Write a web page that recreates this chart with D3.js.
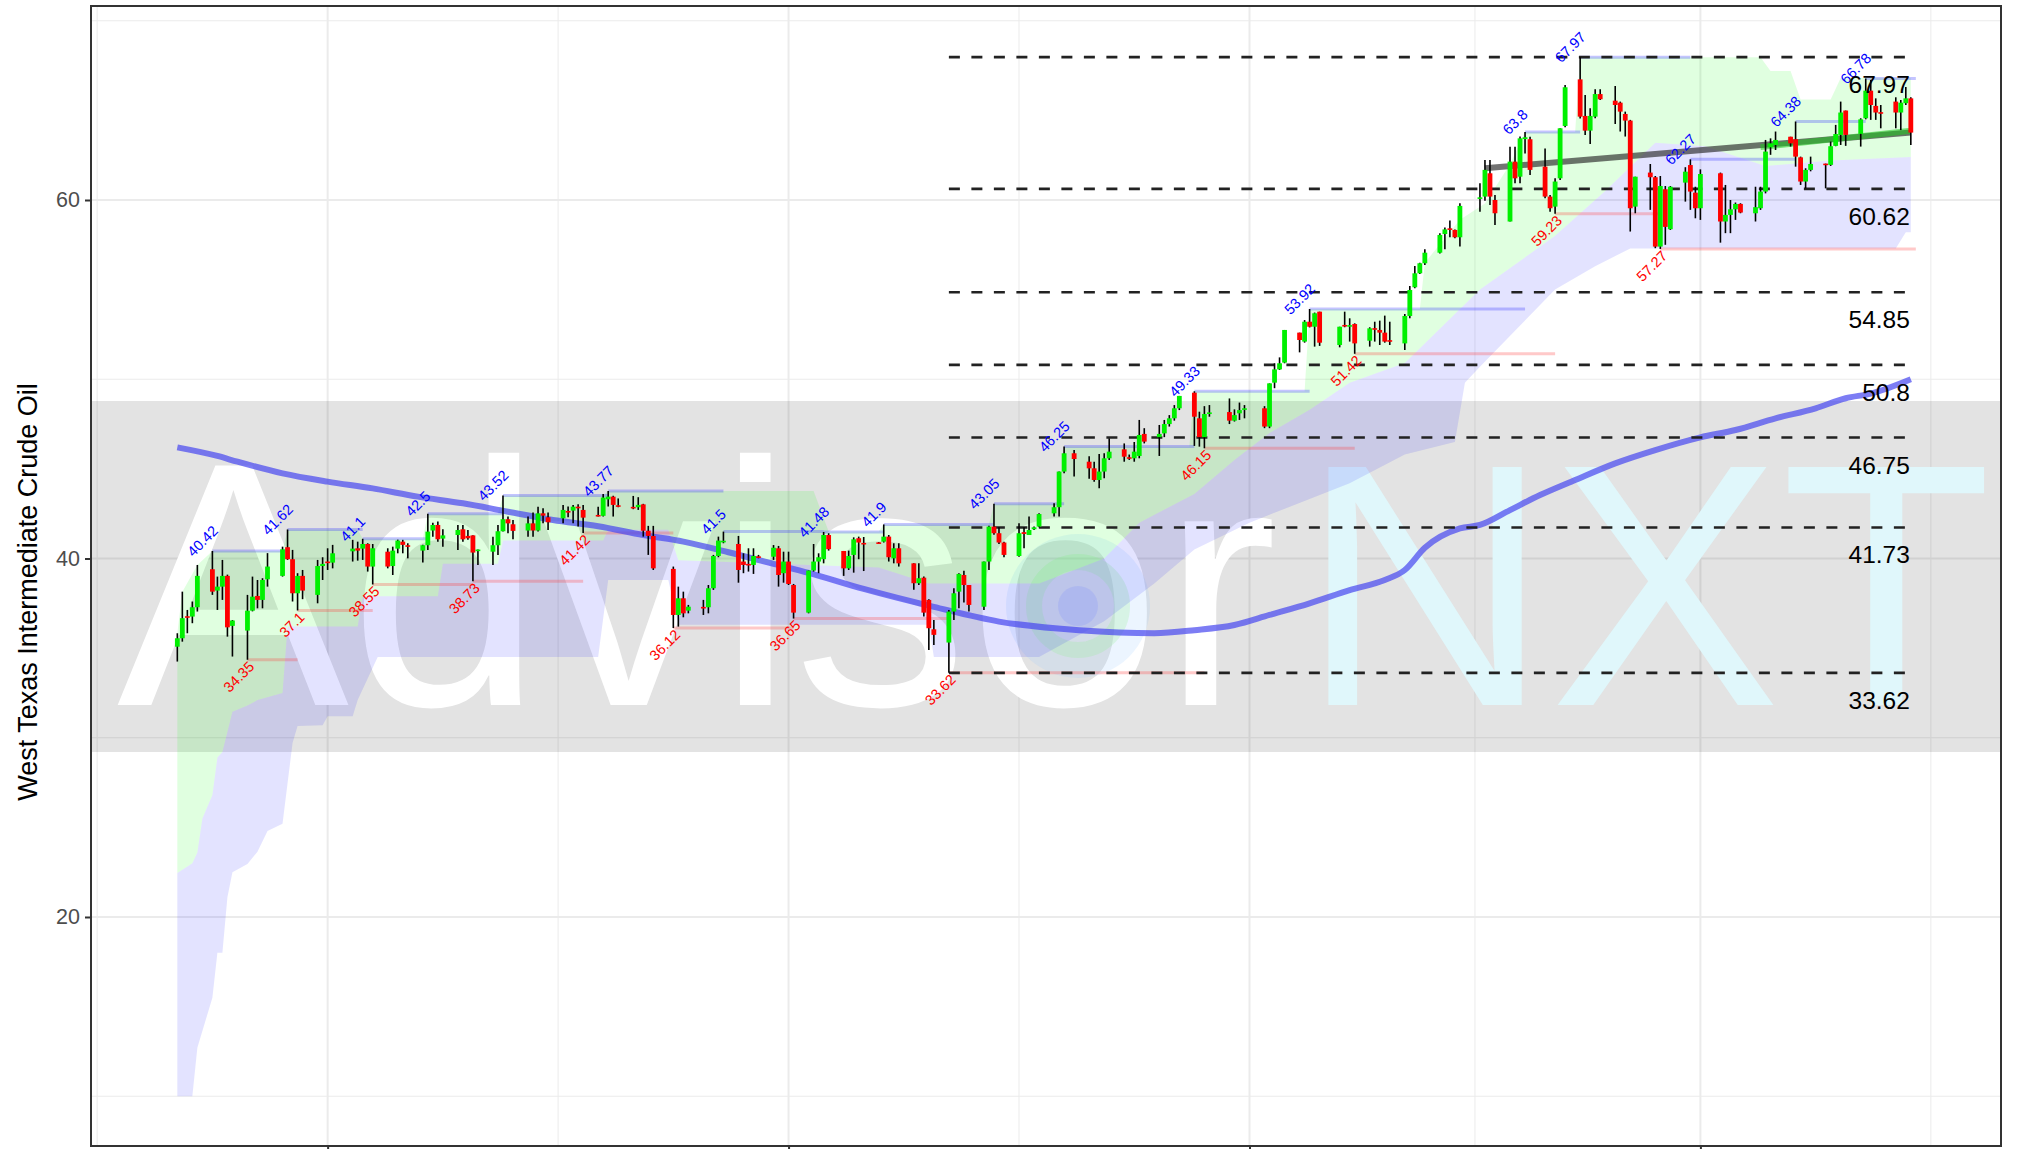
<!DOCTYPE html>
<html><head><meta charset="utf-8">
<script src="https://cdn.jsdelivr.net/npm/d3@7"></script>
<style>body{margin:0;background:#fff}svg{display:block}text{font-family:"Liberation Sans",Arial,Helvetica,sans-serif}</style>
</head><body><svg id="chart" width="2017" height="1149"></svg>
<script>
// day = calendar days since 2020-06-01
const candleDay=[0,1,2,3,4,7,8,9,10,11,14,15,16,17,18,21,22,23,24,25,28,29,30,31,35,36,37,38,39,42,43,44,45,46,49,50,51,52,53,56,57,58,59,60,63,64,65,66,67,70,71,72,73,74,77,78,79,80,81,84,85,86,87,88,91,92,93,94,95,99,100,101,102,105,106,107,108,109,112,113,114,115,116,119,120,121,122,123,126,127,128,129,130,133,134,135,136,137,140,141,142,143,144,147,148,149,150,151,154,155,156,157,158,161,162,163,164,165,168,169,170,171,172,175,176,177,179,182,183,184,185,186,189,190,191,192,193,196,197,198,199,200,203,204,205,206,210,211,212,213,217,218,219,220,221,224,225,226,227,228,232,233,234,235,238,239,240,241,242,245,246,247,248,249,252,253,254,255,256,260,261,262,263,266,267,268,269,270,273,274,275,276,277,280,281,282,283,284,287,288,289,290,291,294,295,296,297,298,301,302,303,304,308,309,310,311,312,315,316,317,318,319,322,323,324,325,326,329,330,331,332,333,336,337,338,339,340,343,344,345,346];
const candleOpen=[35.08,35.55,36.78,36.76,37.28,39.4,38.21,38.43,39.03,36.24,35.98,37.09,37.91,37.69,38.84,39.03,40.63,39.96,38.06,39.03,37.97,39.58,39.83,39.77,40.4,40.57,40.55,40.81,39.55,40.38,39.58,40.55,40.94,40.74,40.44,40.74,41.56,41.87,41.11,41.31,41.63,41.26,41.29,40.44,40.38,40.74,41.52,42.19,41.91,41.56,41.96,41.56,42.52,42.3,42.24,42.65,42.67,42.89,42.71,42.43,42.38,43.3,43.45,42.97,42.88,42.86,43.02,41.55,41.26,39.42,36.85,37.78,37.09,37.3,37.28,38.34,40.14,40.95,40.81,39.83,39.7,39.64,40.12,40.1,40.57,39.18,39.83,38.52,36.98,39.33,39.83,39.96,41.31,40.42,39.45,40.2,41.13,40.87,40.9,40.94,41.22,40.01,40.57,39.73,38.62,38.93,37.69,36.05,35.31,37.04,38.15,39.08,38.52,37.31,39.83,41.78,41.41,40.89,40.14,41.47,41.31,41.63,41.78,42.52,42.86,44.85,45.87,45.4,45.03,44.38,44.85,45.59,46.09,45.65,45.59,45.72,46.95,46.77,46.98,47.5,47.82,48.38,49.25,47.82,46.77,48.1,48.17,47.69,48.1,48.35,48.38,47.36,49.81,50.55,50.93,52.6,52.1,53.21,52.93,53.77,51.91,53.03,52.98,53.08,52.15,52.85,52.75,52.6,52.18,52.0,53.53,55.13,55.91,56.47,57.06,58.1,58.42,58.33,57.92,60.06,60.19,61.49,60.0,58.8,62.14,61.3,63.4,63.39,61.86,60.19,59.63,61.21,64.13,66.73,64.69,63.87,64.65,65.91,65.54,65.43,64.8,64.43,59.63,61.53,61.27,57.4,60.6,58.37,60.97,61.95,60.41,59.54,61.49,58.8,59.17,59.48,59.78,59.26,59.54,60.47,62.94,63.07,63.53,63.39,62.38,61.03,61.68,62.03,61.96,63.02,63.63,64.99,63.69,64.56,66.1,65.25,64.9,65.49,64.88,65.4,65.67];
const candleHigh=[35.83,38.15,37.13,37.6,39.64,40.42,38.99,39.92,39.1,36.57,37.97,38.99,38.8,38.9,40.3,40.66,41.62,40.48,39.18,39.36,39.92,40.07,40.57,40.76,41.04,40.94,41.1,40.85,40.81,40.57,40.66,41.05,41.04,40.85,40.76,42.5,42.0,42.06,41.63,41.87,41.87,41.59,41.3,40.5,41.22,41.87,43.52,42.34,42.15,42.34,42.56,42.89,42.8,42.56,42.99,42.9,42.99,43.02,42.99,42.89,43.6,43.77,43.5,43.35,43.49,43.42,43.05,41.82,41.82,39.55,38.43,38.15,37.41,37.69,38.52,40.2,41.22,41.5,41.26,40.29,40.57,40.57,40.2,40.75,40.7,40.38,40.38,38.58,39.33,40.81,40.29,41.48,41.41,40.42,40.44,41.18,41.22,41.2,40.92,41.9,41.31,40.85,40.85,39.73,39.73,38.99,37.73,36.57,37.13,38.34,39.18,39.32,38.52,39.83,41.82,43.05,41.74,40.94,41.96,41.74,42.34,41.78,42.52,43.08,44.85,46.25,46.05,45.7,45.4,45.83,45.87,46.7,46.42,45.8,46.5,47.73,47.27,47.45,47.73,48.0,48.56,49.07,49.33,48.19,48.5,48.56,48.93,48.32,48.7,48.56,48.5,49.77,50.89,51.22,52.75,52.6,53.3,53.92,53.72,53.77,52.93,53.77,53.4,53.12,52.9,53.21,53.27,53.55,53.21,53.64,55.2,56.32,56.5,57.25,58.14,58.47,58.85,58.36,59.82,60.93,62.23,62.23,60.28,62.97,62.97,63.54,63.8,63.53,62.88,60.28,61.21,64.0,66.42,67.97,65.86,65.12,66.18,66.18,66.36,65.49,64.93,64.47,61.3,62.01,61.34,61.34,60.78,60.78,61.83,62.27,60.74,61.71,61.53,60.84,60.0,59.86,59.82,60.74,60.74,63.35,63.44,63.82,63.53,64.38,62.42,61.77,62.42,62.03,63.26,64.19,65.49,64.99,64.56,66.78,66.7,65.67,65.3,65.73,65.58,66.3,65.73];
const candleLow=[34.25,35.36,35.83,36.39,37.04,37.97,37.13,37.69,35.64,34.53,34.35,37.05,37.22,37.22,38.43,38.99,39.92,37.6,37.1,37.73,37.5,38.8,39.36,39.45,39.83,39.88,39.92,39.27,38.55,39.45,39.08,40.29,40.29,40.01,39.77,40.48,41.22,40.94,40.66,40.48,40.94,41.04,38.73,39.64,39.64,40.2,41.5,41.41,41.07,41.22,41.22,41.5,41.96,41.59,41.96,42.3,41.96,41.78,41.42,42.34,42.34,42.9,42.34,42.86,42.75,42.71,41.22,40.2,39.36,36.12,36.2,36.72,36.94,36.85,36.94,38.25,40.07,40.85,38.65,39.18,39.27,39.14,40.01,39.92,38.43,38.65,38.52,36.65,36.94,39.27,39.18,39.73,40.44,39.03,39.36,39.21,39.96,39.3,40.85,40.89,39.83,39.73,39.55,38.25,38.52,36.76,34.9,35.18,33.62,36.57,37.22,37.54,37.04,37.13,39.36,41.32,40.81,40.07,40.1,40.57,41.31,41.59,41.74,42.34,42.34,44.75,44.57,44.45,44.28,43.92,44.47,45.5,45.4,45.5,45.4,45.59,46.42,45.72,46.77,47.36,47.69,48.28,46.28,46.24,46.15,47.91,47.5,47.64,47.73,47.82,47.27,47.27,49.5,50.52,50.89,51.5,52.04,52.89,51.82,51.86,51.78,52.9,52.1,51.42,51.82,52.1,51.91,52.04,51.91,51.63,53.4,55.07,55.87,56.38,57.02,57.25,57.92,57.86,57.4,59.35,59.96,59.72,58.6,58.8,60.93,60.93,62.6,61.4,60.1,59.35,59.23,61.12,64.06,64.55,63.63,63.13,64.56,65.58,64.24,63.82,63.54,58.24,59.26,59.45,57.31,57.27,57.5,58.33,59.91,59.45,58.98,58.89,57.62,58.15,58.15,58.89,59.26,58.8,59.45,60.37,62.52,62.79,62.98,61.86,60.84,60.65,61.6,60.65,61.9,63.0,63.07,63.02,62.98,64.5,64.47,64.47,64.0,64.0,63.9,65.3,63.07];
const candleClose=[35.55,36.67,36.72,37.28,39.03,38.15,38.43,39.03,36.16,36.54,37.09,37.87,37.69,38.8,39.55,40.51,39.96,38.06,39.03,38.21,39.58,39.7,39.76,40.29,40.55,40.44,40.81,39.55,40.57,39.55,40.44,41.0,40.76,40.7,40.74,41.5,41.87,41.07,41.29,41.59,41.07,41.13,40.33,40.5,40.74,41.52,42.19,41.96,41.54,41.96,41.56,42.52,42.39,42.02,42.71,42.6,42.89,42.8,42.28,42.37,43.4,43.45,42.99,42.93,42.86,42.99,41.55,41.26,39.45,36.85,37.78,36.94,37.31,37.26,38.34,40.14,41.0,40.99,39.36,39.64,39.68,40.14,40.1,40.6,39.08,39.83,38.58,36.98,39.33,39.83,40.07,41.31,40.52,39.45,40.14,41.07,40.89,40.85,40.88,41.22,40.07,40.57,39.73,38.62,38.9,36.98,36.11,35.74,37.04,38.06,39.14,38.52,37.41,39.83,41.78,41.41,40.89,40.2,41.41,41.37,41.59,41.74,42.48,42.86,44.85,45.87,45.55,45.03,44.38,44.85,45.59,45.96,45.68,45.6,45.96,46.89,46.52,46.95,47.5,47.82,48.38,49.07,47.91,46.77,48.06,48.15,47.69,48.0,48.28,48.38,47.36,49.77,50.55,50.89,52.75,52.19,53.21,52.93,53.68,52.04,52.93,52.97,53.02,52.0,52.84,52.8,52.6,52.1,52.15,53.53,54.98,55.91,56.47,57.06,58.05,58.36,58.33,57.92,59.67,60.15,61.68,60.19,59.26,62.14,61.21,63.44,63.5,61.68,60.19,59.54,61.03,64.0,66.29,64.65,63.87,64.69,65.91,65.62,65.3,64.93,64.43,59.54,61.3,61.27,57.4,60.78,58.5,60.74,61.58,60.47,59.54,61.45,58.8,59.17,59.48,59.78,59.3,59.6,60.47,62.7,63.16,63.35,63.16,62.42,61.03,61.68,62.01,61.98,63.0,63.68,64.88,63.63,64.5,66.1,65.3,64.88,64.88,64.88,65.43,65.67,63.76];

// moving average line
const maDay=[0,8,12,21,30,39,48,57,66,75,84,93,101,110,119,126,137,151,164,180,195,203,211,218,226,234,241,245,249,256,260,266,272,279,287,295,304,311,319,327,333,338,346];
const maValue=[46.2,45.72,45.4,44.75,44.29,43.91,43.45,43.08,42.61,42.15,41.8,41.31,40.94,40.35,39.7,39.2,38.3,37.3,36.48,36.0,35.83,36.0,36.29,36.85,37.5,38.24,38.8,39.36,40.6,41.68,41.87,42.7,43.54,44.38,45.31,46.05,46.76,47.17,47.82,48.38,48.94,49.2,50.0];

// band edges: green band = [middle, upper], blue band = [lower, middle]
const upperDay=[0,1,4,7,21,22,36,37,49,50,64,65,85,86,127,130,140,141,162,163,176,177,202,203,225,226,248,249,256,261,266,269,279,280,316,318,322,324,330,332,346];
const upperValue=[35.83,38.15,39.64,40.42,40.42,41.62,41.62,41.1,41.1,42.5,42.5,43.52,43.52,43.77,43.77,41.5,41.5,41.9,41.9,43.05,43.05,46.25,46.25,49.33,49.33,53.92,53.92,56.5,58.9,59.8,62.0,63.8,63.8,67.97,67.97,67.2,67.2,65.6,65.6,66.8,66.8];
const middleDay=[0,3,4,5,7,8,9,11,14,16,21,22,36,37,52,53,64,65,85,86,98,100,140,150,172,185,192,203,211,218,226,234,245,260,275,285,295,305,317,330,346];
const middleValue=[22.45,23.0,23.6,25.5,26.8,28.9,29.2,31.45,31.8,32.1,32.5,36.2,36.2,37.9,37.9,39.7,39.7,41.0,41.0,41.6,41.6,39.9,39.5,38.6,38.6,40.0,42.0,43.6,45.5,47,48.3,49.8,50.9,55,58,60.5,63.2,63,61.9,62.2,62.4];
const lowerDay=[0,3,4,7,8,9,10,11,14,16,18,21,23,24,29,30,35,36,40,84,86,98,100,150,151,172,185,195,203,214,234,245,255,257,260,275,283,290,343,345,346];
const lowerValue=[10,10,12.7,15.5,18,18,21.1,22.5,22.95,23.64,24.8,25.2,29.7,30.65,30.7,31.2,31.2,32.1,34.5,34.5,38.8,38.8,36.3,36.3,34.5,34.5,36.5,38.6,40.5,42.0,44.2,45.8,46.5,49.8,50.7,55,56.3,57.3,57.3,58.2,58.2];

// zig-zag peaks and troughs
const peakDay=[7,22,37,50,65,86,109,129,141,163,177,203,226,269,280,302,323,337];
const peakValue=[40.42,41.62,41.1,42.5,43.52,43.77,41.5,41.48,41.9,43.05,46.25,49.33,53.92,63.8,67.97,62.27,64.38,66.78];
const troughDay=[14,24,39,59,81,99,123,154,205,235,275,296];
const troughValue=[34.35,37.1,38.55,38.73,41.42,36.12,36.65,33.62,46.15,51.42,59.23,57.27];
const segmentEndDay=347;

// horizontal levels
const levelValue=[67.97,60.62,54.85,50.8,46.75,41.73,33.62];
const levelLabel=["67.97","60.62","54.85","50.8","46.75","41.73","33.62"];
const levelStartDay=154, levelEndDay=346;

// trend lines
const trendDay=[261,346], trendValue=[61.77,63.76];
const recentTrendDay=[316,346], recentTrendValue=[62.95,63.86];

// axes
const yTicks=[20,40,60], yMinor=[10,30,50,70];
const xMajor=[30,122,214,304], xMinor=[-16,76,168,259,350];
const yTitle="West Texas Intermediate Crude Oil";

const svg=d3.select("#chart");
const P={l:91,r:2001,t:6,b:1146};
const x=d3.scaleLinear().domain([-17.23,364.0]).range([P.l,P.r]);
const y=d3.scaleLinear().domain([7.224,70.823]).range([P.b,P.t]);

svg.append("defs").append("clipPath").attr("id","clip").append("rect")
  .attr("x",P.l).attr("y",P.t).attr("width",P.r-P.l).attr("height",P.b-P.t);

// grid
const grid=svg.append("g");
grid.selectAll(".ym").data(yMinor).join("line").attr("x1",P.l).attr("x2",P.r)
  .attr("y1",d=>y(d)).attr("y2",d=>y(d)).attr("stroke","#ebebeb").attr("stroke-width",1);
grid.selectAll(".xm").data(xMinor).join("line").attr("y1",P.t).attr("y2",P.b)
  .attr("x1",d=>x(d)).attr("x2",d=>x(d)).attr("stroke","#ebebeb").attr("stroke-width",1);
grid.selectAll(".yM").data(yTicks).join("line").attr("x1",P.l).attr("x2",P.r)
  .attr("y1",d=>y(d)).attr("y2",d=>y(d)).attr("stroke","#ebebeb").attr("stroke-width",2);
grid.selectAll(".xM").data(xMajor).join("line").attr("y1",P.t).attr("y2",P.b)
  .attr("x1",d=>x(d)).attr("x2",d=>x(d)).attr("stroke","#ebebeb").attr("stroke-width",2);

const plot=svg.append("g").attr("clip-path","url(#clip)");

// watermark
const wm=plot.append("g");
wm.append("rect").attr("x",P.l).attr("y",401).attr("width",P.r-P.l).attr("height",351).attr("fill","rgba(0,0,0,0.11)");
wm.append("text").attr("x",117).attr("y",705).attr("font-size",348).attr("fill","#ffffff").text("Advisor");
wm.append("text").attr("x",1300).attr("y",705).attr("font-size",346).attr("fill","#e0f7fb").text("NXT");
wm.append("circle").attr("cx",1078).attr("cy",606).attr("r",72).attr("fill","rgba(150,200,255,0.18)");
wm.append("circle").attr("cx",1078).attr("cy",606).attr("r",44).attr("fill","none").attr("stroke","rgba(150,240,150,0.25)").attr("stroke-width",16);
wm.append("circle").attr("cx",1078).attr("cy",606).attr("r",20).attr("fill","rgba(130,150,255,0.2)");

// bands
function band(dTop,vTop,dBot,vBot){
  const top=dTop.map((d,i)=>[x(d),y(vTop[i])]);
  const bot=dBot.map((d,i)=>[x(d),y(vBot[i])]).reverse();
  return "M"+top.concat(bot).map(p=>p.join(",")).join("L")+"Z";
}
plot.append("path").attr("d",band(upperDay,upperValue,middleDay,middleValue)).attr("fill","rgba(0,255,0,0.12)");
plot.append("path").attr("d",band(middleDay,middleValue,lowerDay,lowerValue)).attr("fill","rgba(0,0,255,0.11)");

// peak / trough segments
const pk=peakDay.map((d,i)=>({d,v:peakValue[i],e:i<peakDay.length-1?peakDay[i+1]:segmentEndDay}));
const tr=troughDay.map((d,i)=>({d,v:troughValue[i],e:i<troughDay.length-1?troughDay[i+1]:segmentEndDay}));
plot.selectAll(".ps").data(pk).join("line").attr("x1",d=>x(d.d)).attr("x2",d=>x(d.e))
  .attr("y1",d=>y(d.v)).attr("y2",d=>y(d.v)).attr("stroke","rgba(60,60,255,0.3)").attr("stroke-width",3);
plot.selectAll(".ts").data(tr).join("line").attr("x1",d=>x(d.d)).attr("x2",d=>x(d.e))
  .attr("y1",d=>y(d.v)).attr("y2",d=>y(d.v)).attr("stroke","rgba(255,60,60,0.28)").attr("stroke-width",3);

// MA line
const line=d3.line().x(d=>x(d[0])).y(d=>y(d[1])).curve(d3.curveMonotoneX);
plot.append("path").attr("d",line(maDay.map((d,i)=>[d,maValue[i]]))).attr("fill","none")
  .attr("stroke","rgba(70,70,240,0.7)").attr("stroke-width",6);

// levels
plot.selectAll(".lv").data(levelValue).join("line").attr("x1",x(levelStartDay)).attr("x2",x(levelEndDay))
  .attr("y1",d=>y(d)).attr("y2",d=>y(d)).attr("stroke","#222").attr("stroke-width",2.6).attr("stroke-dasharray","11,11.5");

// trend lines
const lin=d3.line().x(d=>x(d[0])).y(d=>y(d[1]));
plot.append("path").attr("d",lin(trendDay.map((d,i)=>[d,trendValue[i]]))).attr("stroke","rgba(40,40,40,0.65)").attr("stroke-width",6).attr("fill","none");
plot.append("path").attr("d",lin(recentTrendDay.map((d,i)=>[d,recentTrendValue[i]]))).attr("stroke","rgba(30,200,30,0.55)").attr("stroke-width",6).attr("fill","none");

// candles
const cd=candleDay.map((d,i)=>({d,o:candleOpen[i],h:candleHigh[i],l:candleLow[i],c:candleClose[i]}));
plot.selectAll(".wk").data(cd).join("line").attr("x1",d=>x(d.d)).attr("x2",d=>x(d.d))
  .attr("y1",d=>y(d.h)).attr("y2",d=>y(d.l)).attr("stroke","#000").attr("stroke-width",1.6);
plot.selectAll(".bd").data(cd).join("rect").attr("x",d=>x(d.d)-2.4).attr("width",4.8)
  .attr("y",d=>Math.min(y(d.o),y(d.c))).attr("height",d=>Math.max(1.6,Math.abs(y(d.o)-y(d.c))))
  .attr("fill",d=>d.c>=d.o?"#00f000":"#ff0000");

// labels
const lab=plot.append("g").attr("font-size",14.5);
lab.selectAll(".pl").data(pk).join("text").attr("transform",d=>`translate(${x(d.d)},${y(d.v)}) rotate(-45)`)
  .attr("text-anchor","middle").attr("y",-9).attr("fill","#0000ff").text(d=>String(d.v));
lab.selectAll(".tl").data(tr).join("text").attr("transform",d=>`translate(${x(d.d)},${y(d.v)}) rotate(-45)`)
  .attr("text-anchor","end").attr("y",11).attr("fill","#ff0000").text(d=>String(d.v));
plot.selectAll(".ll").data(levelValue).join("text").attr("x",x(levelEndDay)-1).attr("y",d=>y(d)+36)
  .attr("text-anchor","end").attr("font-size",24.5).attr("fill","#000").text((d,i)=>levelLabel[i]);

// border & axes
svg.append("rect").attr("x",P.l).attr("y",P.t).attr("width",P.r-P.l).attr("height",P.b-P.t)
  .attr("fill","none").attr("stroke","#333").attr("stroke-width",2);
const ya=svg.append("g").attr("transform",`translate(${P.l},0)`).call(d3.axisLeft(y).tickValues(yTicks).tickSize(6).tickPadding(5));
ya.select(".domain").remove();
ya.selectAll("line").attr("stroke","#333").attr("stroke-width",2);
ya.selectAll("text").attr("font-size",21.5).attr("fill","#4d4d4d").attr("font-family","Liberation Sans, Arial, sans-serif");
const xa=svg.append("g").attr("transform",`translate(0,${P.b})`).call(d3.axisBottom(x).tickValues(xMajor).tickSize(6).tickFormat(""));
xa.select(".domain").remove();
xa.selectAll("line").attr("stroke","#333").attr("stroke-width",2);
svg.append("text").attr("transform",`translate(37,592) rotate(-90)`).attr("text-anchor","middle")
  .attr("font-size",27).attr("fill","#000").text(yTitle);
</script></body></html>
